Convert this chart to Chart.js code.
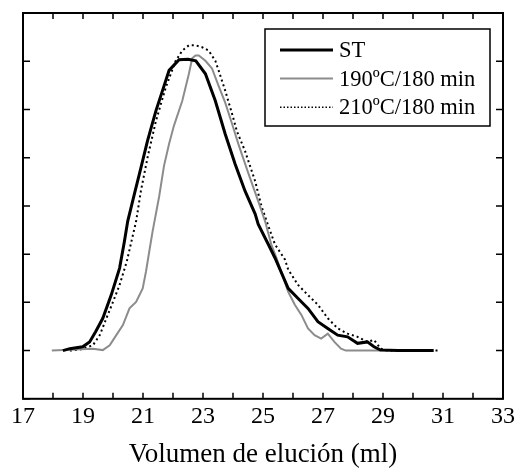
<!DOCTYPE html>
<html>
<head>
<meta charset="utf-8">
<script src="https://cdn.jsdelivr.net/npm/chart.js@4.4.1/dist/chart.umd.min.js"></script>
<style>
  html, body { margin: 0; padding: 0; background: #fff; }
  #wrap { width: 519px; height: 473px; }
</style>
</head>
<body>
<div id="wrap"><canvas id="elutionChart"></canvas></div>
<script>
// Curves: elution volume (ml) and detector signal (arbitrary units)
const stVolume = [18.33, 18.56, 18.99, 19.22, 19.42, 19.66, 19.94, 20.22, 20.38, 20.49, 20.71, 20.93, 21.15, 21.43, 21.65, 21.87, 22.2, 22.5, 22.76, 23.08, 23.41, 23.74, 24.07, 24.4, 24.74, 24.84, 25.18, 25.4, 25.84, 26.17, 26.5, 26.83, 27.16, 27.49, 27.82, 28.15, 28.48, 28.7, 28.92, 29.5, 30.69];
const stSignal = [0, 0.04, 0.08, 0.18, 0.39, 0.67, 1.15, 1.71, 2.26, 2.68, 3.24, 3.79, 4.35, 4.97, 5.39, 5.81, 6.03, 6.04, 6.01, 5.74, 5.18, 4.49, 3.87, 3.31, 2.83, 2.62, 2.2, 1.92, 1.29, 1.08, 0.875, 0.6, 0.46, 0.32, 0.285, 0.15, 0.18, 0.08, 0.01, 0, 0];

const t190Volume = [17.96, 19.33, 19.66, 19.89, 20.11, 20.33, 20.55, 20.77, 20.99, 21.1, 21.21, 21.32, 21.54, 21.7, 21.87, 22.03, 22.31, 22.53, 22.64, 22.75, 22.86, 23.08, 23.3, 23.52, 23.74, 23.96, 24.18, 24.51, 24.84, 25.07, 25.28, 25.45, 25.84, 26.06, 26.28, 26.5, 26.72, 26.94, 27.16, 27.38, 27.6, 27.76, 28.92];
const t190Signal = [0, 0.04, 0.01, 0.11, 0.32, 0.53, 0.875, 1.01, 1.29, 1.64, 2.06, 2.47, 3.2, 3.83, 4.29, 4.66, 5.18, 5.74, 6.06, 6.12, 6.12, 6.01, 5.85, 5.49, 5.14, 4.72, 4.28, 3.68, 3.1, 2.68, 2.19, 1.92, 1.22, 0.95, 0.74, 0.46, 0.32, 0.25, 0.35, 0.18, 0.04, 0, 0];

const t210Volume = [18.56, 18.89, 19.33, 19.56, 19.78, 20.0, 20.22, 20.46, 20.77, 20.93, 21.15, 21.43, 21.76, 22.09, 22.31, 22.53, 22.75, 22.97, 23.19, 23.41, 23.52, 23.74, 23.96, 24.13, 24.4, 24.74, 24.95, 25.18, 25.4, 25.73, 25.84, 26.17, 26.5, 26.83, 27.16, 27.49, 27.82, 28.15, 28.48, 28.7, 28.92, 29.14, 30.9];
const t210Signal = [0, 0.02, 0.11, 0.32, 0.67, 1.01, 1.36, 1.85, 2.68, 3.31, 4.0, 4.76, 5.46, 6.01, 6.22, 6.33, 6.33, 6.29, 6.22, 6.01, 5.81, 5.39, 4.93, 4.55, 4.14, 3.51, 2.99, 2.58, 2.2, 1.89, 1.68, 1.36, 1.15, 0.95, 0.67, 0.46, 0.35, 0.285, 0.18, 0.22, 0.04, 0, 0];

const seriesLabels = ['ST', '190ºC/180 min', '210ºC/180 min'];
const xTickValues = [17, 18, 19, 20, 21, 22, 23, 24, 25, 26, 27, 28, 29, 30, 31, 32, 33];
const yTickValues = [-1, 0, 1, 2, 3, 4, 5, 6, 7];

const serif = "'Liberation Serif', 'Times New Roman', serif";

function toPoints(xs, ys) {
    return xs.map((x, i) => ({ x: x, y: ys[i] }));
}

// frame, inward ticks on all four sides, and the boxed legend
const framePlugin = {
    id: 'frame',
    afterDatasetsDraw(chart) {
        const { ctx, chartArea: a, scales } = chart;
        const xs = scales.x, ys = scales.y;
        ctx.save();
        ctx.strokeStyle = '#000';
        ctx.lineWidth = 2;
        ctx.strokeRect(a.left, a.top, a.right - a.left, a.bottom - a.top);
        ctx.lineWidth = 1.5;
        ctx.beginPath();
        xTickValues.forEach(v => {
            const px = xs.getPixelForValue(v);
            ctx.moveTo(px, a.bottom); ctx.lineTo(px, a.bottom - 6);
            ctx.moveTo(px, a.top); ctx.lineTo(px, a.top + 6);
        });
        yTickValues.forEach(v => {
            const py = ys.getPixelForValue(v);
            ctx.moveTo(a.left, py); ctx.lineTo(a.left + 7, py);
            ctx.moveTo(a.right, py); ctx.lineTo(a.right - 7, py);
        });
        ctx.stroke();

        // legend box
        const bx = 265, by = 29, bw = 225, bh = 97;
        ctx.fillStyle = '#fff';
        ctx.fillRect(bx, by, bw, bh);
        ctx.lineWidth = 1.5;
        ctx.strokeRect(bx, by, bw, bh);
        ctx.font = '22.5px ' + serif;
        ctx.textBaseline = 'middle';
        chart.data.datasets.forEach((ds, i) => {
            const y = by + 21 + i * 28.6;
            ctx.beginPath();
            ctx.strokeStyle = ds.borderColor;
            ctx.lineWidth = ds.borderDash ? 1.5 : ds.borderWidth;
            ctx.setLineDash(ds.borderDash ? [1.5, 2] : []);
            ctx.moveTo(280, y); ctx.lineTo(333, y);
            ctx.stroke();
            ctx.setLineDash([]);
            ctx.fillStyle = '#000';
            ctx.fillText(ds.label, 339, y + 1);
        });
        ctx.restore();
    }
};

const chart = new Chart(document.getElementById('elutionChart'), {
    type: 'line',
    data: {
        datasets: [
            {
                label: seriesLabels[0],
                data: toPoints(stVolume, stSignal),
                borderColor: '#000',
                borderWidth: 3
            },
            {
                label: seriesLabels[1],
                data: toPoints(t190Volume, t190Signal),
                borderColor: '#8c8c8c',
                borderWidth: 2
            },
            {
                label: seriesLabels[2],
                data: toPoints(t210Volume, t210Signal),
                borderColor: '#000',
                borderWidth: 2,
                borderDash: [2, 3]
            }
        ]
    },
    options: {
        responsive: true,
        maintainAspectRatio: false,
        animation: false,
        events: [],
        elements: {
            point: { radius: 0 },
            line: { tension: 0 }
        },
        layout: {
            padding: { left: 23, right: 12, top: 13, bottom: 2 }
        },
        plugins: {
            legend: { display: false },
            tooltip: { enabled: false }
        },
        scales: {
            x: {
                type: 'linear',
                min: 17,
                max: 33,
                grid: { display: false, drawTicks: false },
                border: { display: false },
                ticks: {
                    stepSize: 2,
                    padding: 4,
                    color: '#000',
                    maxRotation: 0,
                    font: { family: serif, size: 24 }
                },
                title: {
                    display: true,
                    text: 'Volumen de elución (ml)',
                    color: '#000',
                    padding: { top: 3, bottom: 0 },
                    font: { family: serif, size: 27 }
                }
            },
            y: {
                display: false,
                min: -1,
                max: 7
            }
        }
    },
    plugins: [framePlugin]
});
</script>
</body>
</html>
